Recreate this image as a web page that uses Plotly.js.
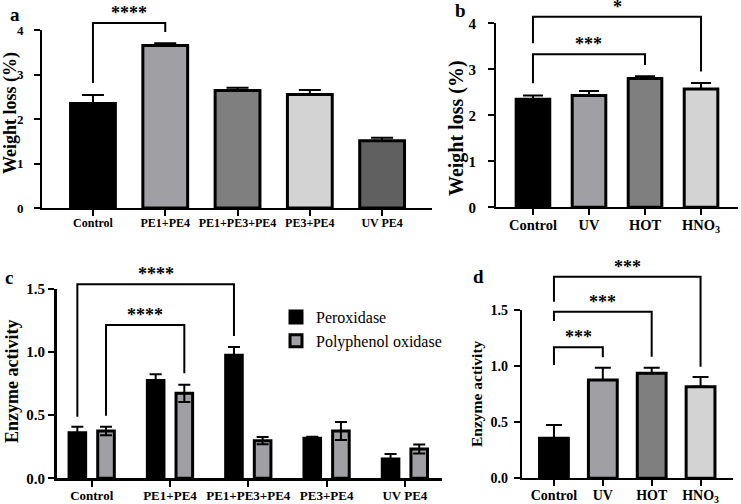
<!DOCTYPE html>
<html>
<head>
<meta charset="utf-8">
<script src="https://cdn.plot.ly/plotly-3.0.1.min.js"></script>
<style>html,body{margin:0;padding:0;background:#fff}</style>
</head>
<body>
<div id="chart" style="width:741px;height:504px"></div>
<script>
// ---- data -------------------------------------------------------------
// (a) weight loss of PE by the bacterial consortia
const consortia = ['Control', 'PE1+PE4', 'PE1+PE3+PE4', 'PE3+PE4', 'UV PE4'];
const lossConsortia = [2.35, 3.65, 2.64, 2.55, 1.51];
const lossConsortiaErr = [0.19, 0.05, 0.06, 0.10, 0.07];

// (b) weight loss after pretreatment
const pretreatments = ['Control', 'UV', 'HOT', 'HNO<sub>3</sub>'];
const lossPretreat = [2.35, 2.43, 2.80, 2.57];
const lossPretreatErr = [0.08, 0.10, 0.05, 0.13];

// (c) enzyme activity of the consortia
const seriesNames = ['Peroxidase', 'Polyphenol oxidase'];
const peroxidase = [0.36, 0.774, 0.975, 0.317, 0.153];
const peroxidaseErr = [0.048, 0.05, 0.065, 0.013, 0.04];
const polyphenolOxidase = [0.375, 0.673, 0.298, 0.375, 0.232];
const polyphenolOxidaseErr = [0.033, 0.068, 0.029, 0.072, 0.035];

// (d) enzyme activity after pretreatment
const enzymePretreat = [0.357, 0.876, 0.936, 0.817];
const enzymePretreatErr = [0.118, 0.11, 0.05, 0.086];

// significance brackets: [from, to, bar height, left leg end, right leg end, label]
const sigA = [[0, 1, 4.16, 2.81, 3.955, '****']];
const sigB = [[0, 3, 4.14, 3.565, 2.95, '*'], [0, 2, 3.326, 2.696, 3.093, '***']];
// grouped panel: [fromCat, fromSeries, toCat, toSeries, bar height, left end, right end, label]
const sigC = [[0, 0, 2, 0, 1.537, 0.488, 1.128, '****'], [0, 1, 1, 1, 1.215, 0.496, 0.832, '****']];
const sigD = [[0, 3, 1.797, 1.574, 0.995, '***'], [0, 2, 1.485, 1.402, 1.084, '***'], [0, 1, 1.168, 1.01, 1.078, '***']];

// ---- styles -----------------------------------------------------------
const W = 741, H = 504;
const SERIF = '"Liberation Serif", "Times New Roman", serif';
const coloursA = ['#000000', '#a0a0a4', '#7f7f7f', '#d3d3d3', '#606060'];
const coloursB = ['#000000', '#a0a0a4', '#7f7f7f', '#d3d3d3'];
const seriesColours = ['#000000', '#a0a0a4'];
const groupOffset = 0.183;   // centre shift of each series inside a group
const groupBarWidth = 0.212;

const px = p => p / W;
const py = p => 1 - p / H;

function xAxis(domain, range, fontSize) {
  return {
    type: 'category', domain: domain, range: range,
    showline: true, linecolor: '#000', linewidth: 2,
    ticks: 'outside', ticklen: 6, tickwidth: 2, tickcolor: '#000',
    ticklabelstandoff: -3,
    showgrid: false, zeroline: false, fixedrange: true,
    tickfont: {family: SERIF, size: fontSize, color: '#000', weight: 'bold'}
  };
}
function yAxis(domain, range, dtick, fontSize, fmt, standoff) {
  return {
    domain: domain, range: range, dtick: dtick, tick0: 0,
    showline: true, linecolor: '#000', linewidth: 2,
    ticks: 'outside', ticklen: 6, tickwidth: 2, tickcolor: '#000',
    ticklabelstandoff: standoff,
    showgrid: false, zeroline: false, fixedrange: true, tickformat: fmt,
    tickfont: {family: SERIF, size: fontSize, color: '#000', weight: 'bold'}
  };
}

const layout = {
  width: W, height: H,
  margin: {l: 0, r: 0, t: 0, b: 0},
  paper_bgcolor: '#fff', plot_bgcolor: '#fff',
  barmode: 'overlay',
  showlegend: true,
  legend: {
    x: px(276), y: py(300), xanchor: 'left', yanchor: 'top',
    font: {family: SERIF, size: 16, color: '#000'},
    bgcolor: 'rgba(0,0,0,0)', tracegroupgap: 0
  },
  xaxis: xAxis([px(42), px(432)], [-0.705, 4.69], 12),
  yaxis: yAxis([py(208), py(30)], [0, 4], 1, 13, 'd', 8),
  xaxis2: xAxis([px(496), px(738)], [-0.66, 3.66], 14.5),
  yaxis2: yAxis([py(207.3), py(23.3)], [0, 4], 1, 15, 'd', 9),
  xaxis3: xAxis([px(57), px(441.7)], [-0.443, 4.47], 13),
  yaxis3: yAxis([py(478.3), py(289)], [0, 1.5], 0.5, 15, '.1f', 0),
  xaxis4: xAxis([px(521.7), px(733.3)], [-0.66, 3.67], 14),
  yaxis4: yAxis([py(478.3), py(310)], [0, 1.5], 0.5, 14, '.1f', 3),
  shapes: [],
  annotations: []
};
layout.xaxis2.anchor = 'y2'; layout.yaxis2.anchor = 'x2';
layout.xaxis3.anchor = 'y3'; layout.yaxis3.anchor = 'x3';
layout.xaxis4.anchor = 'y4'; layout.yaxis4.anchor = 'x4';
layout.xaxis3.linewidth = 3; layout.yaxis3.linewidth = 3;

function errBars(vals, cap, symmetric) {
  const e = {type: 'data', array: vals, visible: true, color: '#000', thickness: 2, width: cap};
  if (!symmetric) { e.symmetric = false; e.arrayminus = vals.map(() => 0); }
  return e;
}

const traces = [
  {type: 'bar', x: consortia, y: lossConsortia, xaxis: 'x', yaxis: 'y', width: 0.62,
   marker: {color: coloursA, line: {color: '#000', width: 3}},
   error_y: errBars(lossConsortiaErr, 11, false), showlegend: false, hoverinfo: 'skip'},
  {type: 'bar', x: pretreatments, y: lossPretreat, xaxis: 'x2', yaxis: 'y2', width: 0.6,
   marker: {color: coloursB, line: {color: '#000', width: 3}},
   error_y: errBars(lossPretreatErr, 10, false), showlegend: false, hoverinfo: 'skip'},
  {type: 'bar', name: seriesNames[0], x: consortia, y: peroxidase, xaxis: 'x3', yaxis: 'y3',
   width: groupBarWidth, offset: -groupOffset - groupBarWidth / 2,
   marker: {color: seriesColours[0], line: {color: '#000', width: 3}},
   error_y: errBars(peroxidaseErr, 6, true), hoverinfo: 'skip'},
  {type: 'bar', name: seriesNames[1], x: consortia, y: polyphenolOxidase, xaxis: 'x3', yaxis: 'y3',
   width: groupBarWidth, offset: groupOffset - groupBarWidth / 2,
   marker: {color: seriesColours[1], line: {color: '#000', width: 3}},
   error_y: errBars(polyphenolOxidaseErr, 6, true), hoverinfo: 'skip'},
  {type: 'bar', x: pretreatments, y: enzymePretreat, xaxis: 'x4', yaxis: 'y4', width: 0.59,
   marker: {color: coloursB, line: {color: '#000', width: 3}},
   error_y: errBars(enzymePretreatErr, 8, false), showlegend: false, hoverinfo: 'skip'}
];

// data value -> paper fraction, using each axis' domain and range
function toPaper(ax, v) {
  return ax.domain[0] + (v - ax.range[0]) / (ax.range[1] - ax.range[0]) * (ax.domain[1] - ax.domain[0]);
}
function bracket(xa, ya, x0, x1, top, end0, end1, label, width, shift) {
  const X0 = toPaper(xa, x0), X1 = toPaper(xa, x1);
  const T = toPaper(ya, top), E0 = toPaper(ya, end0), E1 = toPaper(ya, end1);
  layout.shapes.push({
    type: 'path', xref: 'paper', yref: 'paper',
    path: `M${X0},${E0}L${X0},${T}L${X1},${T}L${X1},${E1}`,
    line: {color: '#000', width: width}
  });
  layout.annotations.push({
    xref: 'paper', yref: 'paper', x: (X0 + X1) / 2, y: T, xanchor: 'center', yanchor: 'bottom',
    yshift: -2, text: label, showarrow: false,
    font: {family: SERIF, size: 18, color: '#000', weight: 'bold'}
  });
}
sigA.forEach(s => bracket(layout.xaxis, layout.yaxis, s[0], s[1], s[2], s[3], s[4], s[5], 2));
sigB.forEach(s => bracket(layout.xaxis2, layout.yaxis2, s[0], s[1], s[2], s[3], s[4], s[5], 2));
sigC.forEach(s => bracket(layout.xaxis3, layout.yaxis3,
  s[0] + (s[1] ? groupOffset : -groupOffset), s[2] + (s[3] ? groupOffset : -groupOffset),
  s[4], s[5], s[6], s[7], 2));
sigD.forEach(s => bracket(layout.xaxis4, layout.yaxis4, s[0], s[1], s[2], s[3], s[4], s[5], 2));

// panel letters and y-axis titles
function label(text, x, y, size, angle) {
  layout.annotations.push({
    xref: 'paper', yref: 'paper', x: px(x), y: py(y), xanchor: 'center', yanchor: 'middle',
    text: text, textangle: angle || 0, showarrow: false,
    font: {family: SERIF, size: size, color: '#000', weight: 'bold'}
  });
}
label('a', 15, 14, 19);
label('b', 460, 10, 19);
label('c', 9, 277, 19);
label('d', 478, 276, 19);
label('Weight loss (%)', 11, 113, 18, -90);
label('Weight loss (%)', 456, 128, 20, -90);
label('Enzyme activity', 12, 382, 18, -90);
label('Enzyme activity', 476, 393, 15.5, -90);

Plotly.newPlot('chart', traces, layout, {displayModeBar: false, staticPlot: true});
</script>
</body>
</html>
